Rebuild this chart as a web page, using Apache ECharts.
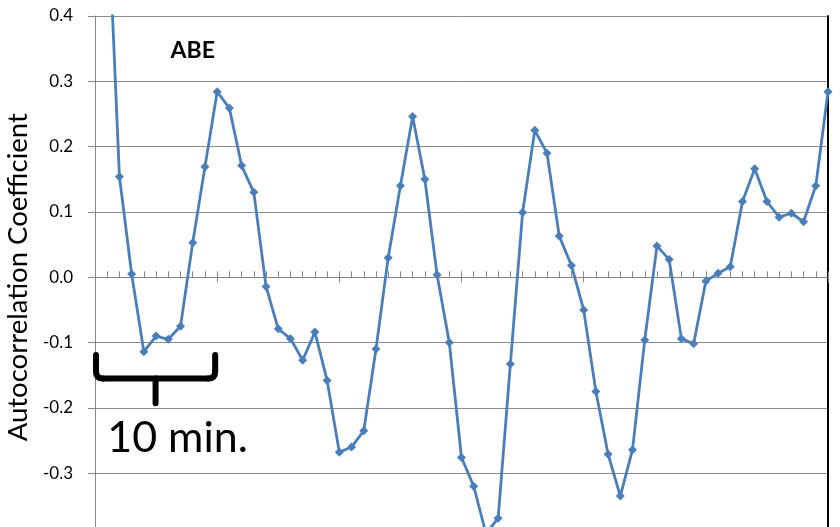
<!DOCTYPE html>
<html>
<head>
<meta charset="utf-8">
<script src="https://cdn.jsdelivr.net/npm/echarts@6/dist/echarts.min.js"></script>
<style>
  html, body { margin: 0; padding: 0; background: #fff; overflow: hidden; }
  /* the plot runs slightly past the bottom edge of the window */
  #chart { width: 840px; height: 539px; }
</style>
</head>
<body>
<div id="chart"></div>
<script>
// Lag index (one step per data point; ten steps = 10 min.)
const lags = Array.from({ length: 61 }, (_, i) => String(i));

// Autocorrelation coefficient of the ABE record at each lag
const acf = [
  1.000, 0.590, 0.154, 0.005, -0.114, -0.090, -0.095, -0.075, 0.053, 0.169,
  0.284, 0.259, 0.171, 0.130, -0.014, -0.079, -0.094, -0.127, -0.084, -0.158,
  -0.268, -0.260, -0.235, -0.110, 0.030, 0.140, 0.246, 0.150, 0.004, -0.100,
  -0.276, -0.320, -0.392, -0.369, -0.133, 0.099, 0.225, 0.190, 0.063, 0.018,
  -0.050, -0.175, -0.271, -0.335, -0.264, -0.096, 0.048, 0.027, -0.094, -0.102,
  -0.006, 0.006, 0.016, 0.116, 0.166, 0.116, 0.092, 0.098, 0.085, 0.140,
  0.284
];

// Y axis range and tick step
const yMin = -0.4, yMax = 0.4, yStep = 0.1;

const seriesName = 'ABE';
const yTitle = 'Autocorrelation Coefficient';
const spanLabel = '10 min.';
const spanStart = 0, spanEnd = 10;   // the 10-minute span marked by the brace

const FONT = 'Lato, "Open Sans", "Liberation Sans", sans-serif';
const chart = echarts.init(document.getElementById('chart'), null, { renderer: 'canvas' });

chart.setOption({
  animation: false,
  backgroundColor: '#ffffff',
  grid: {
    left: 95, right: 12, top: 16, bottom: 0.5,
    containLabel: false, outerBoundsMode: 'none'
  },
  xAxis: [
    {
      type: 'category',
      data: lags,
      boundaryGap: false,
      axisLine: { onZero: true, lineStyle: { color: '#868686', width: 1 } },
      axisTick: { show: true, inside: true, interval: 0, length: 6, lineStyle: { color: '#868686' } },
      axisLabel: { show: false },
      splitLine: { show: false }
    },
    {
      // longer ticks every ten steps, reaching below the zero line
      type: 'category',
      data: lags,
      boundaryGap: false,
      position: 'bottom',
      axisLine: { show: false, onZero: true },
      axisTick: {
        show: true, inside: false, length: 5,
        interval: (idx) => idx % 10 === 0,
        lineStyle: { color: '#868686' }
      },
      axisLabel: { show: false },
      splitLine: { show: false }
    }
  ],
  yAxis: [
    {
      type: 'value',
      min: yMin, max: yMax, interval: yStep,
      name: yTitle,
      nameLocation: 'middle',
      nameGap: 57,
      nameTextStyle: { fontFamily: FONT, fontSize: 27.5, color: '#000' },
      axisLine: { show: true, lineStyle: { color: '#868686', width: 1 } },
      axisTick: { show: true, inside: false, length: 7, lineStyle: { color: '#868686' } },
      axisLabel: {
        margin: 22,
        fontFamily: FONT, fontSize: 17, color: '#000',
        formatter: (v) => v.toFixed(1)
      },
      splitLine: { show: true, lineStyle: { color: '#8c8c8c', width: 1 } }
    },
    {
      // frame on the right side of the plot
      type: 'value',
      position: 'right',
      min: yMin, max: yMax, interval: yStep,
      axisLine: { show: true, lineStyle: { color: '#000', width: 2 } },
      axisTick: { show: false },
      axisLabel: { show: false },
      splitLine: { show: false }
    }
  ],
  series: [
    {
      name: seriesName,
      type: 'line',
      data: acf,
      clip: true,
      symbol: 'diamond',
      symbolSize: 9,
      showAllSymbol: true,
      lineStyle: { color: '#4A7EBB', width: 2.8 },
      itemStyle: { color: '#4A7EBB' }
    }
  ]
});

// Annotations placed in data coordinates
function px(cat, val) {
  return chart.convertToPixel({ xAxisIndex: 0, yAxisIndex: 0 }, [cat, val]);
}
const pL = px(spanStart, -0.119);
const pR = px(spanEnd, -0.119);
const yMid = px(spanStart, -0.155)[1];
const yBot = px(spanStart, -0.193)[1];
const xL = pL[0] + 1, xR = pR[0] - 2, yTop = pL[1];
const xC = (xL + xR) / 2;
const r = 7; // corner rounding of the brace

const titlePos = px(8.2, 0.347);
const spanPos = px(1, -0.247);

const braceStyle = { fill: null, stroke: '#000', lineWidth: 6, lineCap: 'round', lineJoin: 'round' };

chart.setOption({
  graphic: [
    { type: 'line', shape: { x1: xL, y1: yTop, x2: xL, y2: yMid - r }, style: braceStyle, z: 100 },
    { type: 'bezierCurve', shape: { x1: xL, y1: yMid - r, cpx1: xL, cpy1: yMid, x2: xL + r, y2: yMid }, style: braceStyle, z: 100 },
    { type: 'line', shape: { x1: xL + r, y1: yMid, x2: xR - r, y2: yMid }, style: braceStyle, z: 100 },
    { type: 'bezierCurve', shape: { x1: xR - r, y1: yMid, cpx1: xR, cpy1: yMid, x2: xR, y2: yMid - r }, style: braceStyle, z: 100 },
    { type: 'line', shape: { x1: xR, y1: yMid - r, x2: xR, y2: yTop }, style: braceStyle, z: 100 },
    { type: 'line', shape: { x1: xC, y1: yMid, x2: xC, y2: yBot }, style: braceStyle, z: 100 },
    {
      type: 'text',
      x: titlePos[0], y: titlePos[1],
      style: {
        text: seriesName, font: `bold 23px ${FONT}`, fill: '#000',
        align: 'center', verticalAlign: 'middle'
      },
      z: 100
    },
    {
      type: 'text',
      x: spanPos[0], y: spanPos[1],
      style: {
        text: spanLabel, font: `43px ${FONT}`, fill: '#000',
        align: 'left', verticalAlign: 'middle'
      },
      z: 100
    }
  ]
});
</script>
</body>
</html>
